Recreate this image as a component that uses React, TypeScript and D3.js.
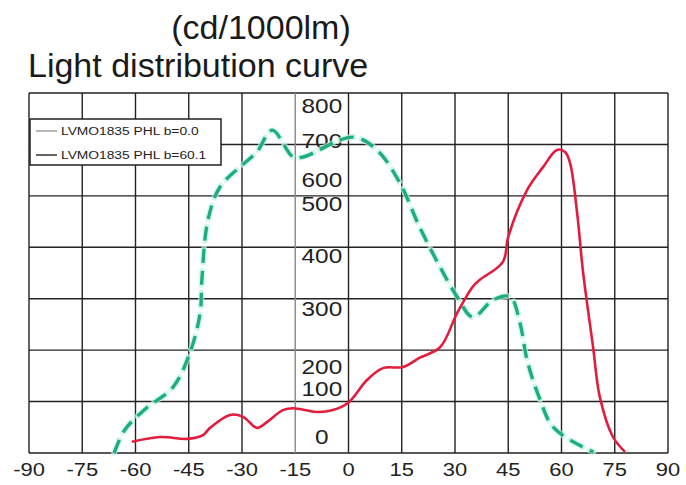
import React from 'react';
import * as d3 from 'd3';

// ---- data ----
const angleTicks = [-90, -75, -60, -45, -30, -15, 0, 15, 30, 45, 60, 75, 90];
const valueTicks = [0, 100, 200, 300, 400, 500, 600, 700, 800];
const gridRowCount = 8;

const greenAngles = [-66, -63, -57, -49.4, -44.6, -41.8, -41.3, -39.6, -36.2, -29.2, -25.8, -21.5, -15.6, -12.8, 1.3, 8, 14.5, 20, 25.8, 30.6, 35, 40.7, 45.5, 48.3, 50.3, 54, 57.6, 66, 69];
const greenValues = [-33, 15, 60, 109, 226, 293, 355, 469, 571, 644, 672, 731, 659, 659, 711, 677, 587, 456, 379, 323, 286, 317, 323, 276, 212, 77, 21, -21, -31];

const redAngles = [-61, -53, -45.5, -41, -39, -33.4, -29.7, -25.8, -23, -18.5, -15.6, -8.9, -4.4, 0, 5.2, 9.7, 15.4, 20.1, 25.8, 30.6, 35, 37, 43.5, 45, 50.3, 54.8, 58.7, 61, 62.4, 64.4, 66, 68.9, 70.8, 74.5, 77.9];
const redValues = [-10, 0, -4, 4, 19, 46, 42, 19, 31, 56, 60, 52, 56, 72, 141, 195, 200, 216, 234, 293, 342, 355, 389, 437, 558, 633, 677, 672, 644, 483, 374, 234, 83, 0, -31];

const legendLabels = ['LVMO1835 PHL b=0.0', 'LVMO1835 PHL b=60.1'];
const titleUnit = '(cd/1000lm)';
const titleMain = 'Light distribution curve';

const FONT = '"Liberation Sans", Arial, Helvetica, sans-serif';

export default function App() {
  const left = 29, right = 668, top = 93, bottom = 453;
  const x = d3.scaleLinear().domain([-90, 90]).range([left, right]);
  // label column of the original is not evenly spaced: piecewise scale
  const y = d3.scaleLinear().domain(valueTicks).range([437, 389, 367, 309, 256, 204, 180, 141, 106]);
  const gridY = d3.scaleLinear().domain([0, gridRowCount - 1]).range([bottom, top]);

  const line = d3.line<[number, number]>()
    .x(d => x(d[0]))
    .y(d => y(d[1]))
    .curve(d3.curveCatmullRom.alpha(0.5));

  const greenPts = greenAngles.map((a, i) => [a, greenValues[i]] as [number, number]);
  const redPts = redAngles.map((a, i) => [a, redValues[i]] as [number, number]);

  const sx = 1.22;
  const labelX = (x(-15) + x(0)) / 2;

  return (
    <svg width={686} height={485} style={{ position: 'absolute', left: 0, top: 0, background: '#fff' }} fontFamily={FONT}>
      <rect width={686} height={485} fill="#fff" />
      <text x={261} y={39} fontSize={34} textAnchor="middle" fill="#1a1a1a">{titleUnit}</text>
      <text x={28} y={77} fontSize={34} fill="#1a1a1a">{titleMain}</text>

      {/* grid */}
      {d3.range(gridRowCount).map(i => (
        <line key={'h' + i} x1={left} x2={right} y1={gridY(i)} y2={gridY(i)} stroke="#222" strokeWidth={1.4} />
      ))}
      {angleTicks.map(a => (
        <line key={'v' + a} x1={x(a)} x2={x(a)} y1={top} y2={bottom} stroke={a === -15 ? '#888' : '#222'} strokeWidth={1.4} />
      ))}

      {/* y labels */}
      {valueTicks.map(v => (
        <text key={'yl' + v} transform={`translate(${labelX},${y(v)}) scale(${sx},1)`} dy="0.36em" fontSize={20} textAnchor="middle" fill="#222">{v}</text>
      ))}

      {/* curves */}
      <path d={line(greenPts) || ''} fill="none" stroke="#bff5ea" strokeWidth={6} strokeDasharray="14 8" strokeLinecap="round" opacity={0.7} />
      <path d={line(greenPts) || ''} fill="none" stroke="#1fae78" strokeWidth={3.4} strokeDasharray="14 8" />
      <path d={line(redPts) || ''} fill="none" stroke="#e41c3c" strokeWidth={2.6} strokeLinejoin="round" />

      {/* legend */}
      <rect x={30} y={119} width={191} height={46} fill="#fff" stroke="#222" strokeWidth={1.5} />
      {legendLabels.map((t, i) => {
        const ly = 131 + i * 24;
        return (
          <g key={t}>
            <line x1={36} x2={57} y1={ly} y2={ly} stroke={i === 0 ? '#999' : '#222'} strokeWidth={1.4} />
            <text transform={`translate(61,${ly}) scale(1.2,1)`} dy="0.35em" fontSize={11.5} fill="#222">{t}</text>
          </g>
        );
      })}

      {/* x labels */}
      {angleTicks.map(a => (
        <text key={'xl' + a} transform={`translate(${x(a)},${470}) scale(${sx},1)`} dy="0.36em" fontSize={18} textAnchor="middle" fill="#222">{a}</text>
      ))}
    </svg>
  );
}
